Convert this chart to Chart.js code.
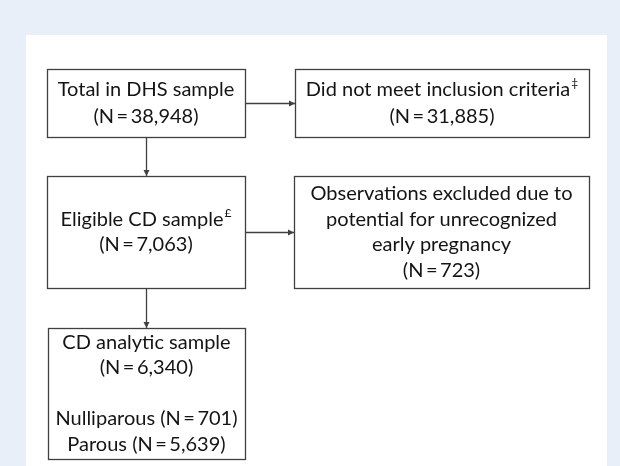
<!DOCTYPE html>
<html>
<head>
<meta charset="utf-8">
<script src="https://cdn.jsdelivr.net/npm/chart.js@4.4.1/dist/chart.umd.min.js"></script>
<style>
  html, body { margin: 0; padding: 0; background: #e9eff9; }
  #wrap { width: 620px; height: 466px; }
  canvas { display: block; }
</style>
</head>
<body>
<div id="wrap"><canvas id="flow" width="620" height="466"></canvas></div>
<script>
// flow steps
const stepNames = [
  ['Total in DHS sample'],
  ['Did not meet inclusion criteria'],
  ['Eligible CD sample'],
  ['Observations excluded due to', 'potential for unrecognized', 'early pregnancy'],
  ['CD analytic sample']
];
const stepMarks = ['', '\u2021', '\u00a3', '', ''];
const stepCounts = [38948, 31885, 7063, 723, 6340];
const subgroupNames = ['Nulliparous', 'Parous'];
const subgroupCounts = [701, 5639];

// layout (chart units = px here)
const boxLayout = [
  [47, 69, 245, 137],
  [295, 69, 589, 137],
  [47, 176, 245, 288],
  [294, 176, 589, 288],
  [48, 328, 245, 459]
];
const links = [[0, 1, 'right'], [0, 2, 'down'], [2, 3, 'right'], [2, 4, 'down']];
const panel = [26, 35, 607, 470];

const FONT = 'Lato';
const fmt = n => n.toLocaleString('en-US');
const nText = n => '(N\u2009=\u2009' + fmt(n) + ')';

function boxLines(i) {
  const lines = stepNames[i].map((t, k) => ({ text: t, mark: k === stepNames[i].length - 1 ? stepMarks[i] : '' }));
  lines.push({ text: nText(stepCounts[i]), mark: '' });
  if (i === 4) {
    lines.push({ text: '', mark: '' });
    subgroupNames.forEach((g, k) => lines.push({ text: g + ' ' + nText(subgroupCounts[k]), mark: '' }));
  }
  return lines;
}

const flowPlugin = {
  id: 'flow',
  beforeDraw(chart) {
    const { ctx, scales: { x, y } } = chart;
    ctx.save();
    ctx.fillStyle = '#e9eff9';
    ctx.fillRect(0, 0, chart.width, chart.height);
    ctx.fillStyle = '#ffffff';
    const px0 = x.getPixelForValue(panel[0]), py0 = y.getPixelForValue(panel[1]);
    ctx.fillRect(px0, py0, x.getPixelForValue(panel[2]) - px0, y.getPixelForValue(panel[3]) - py0);
    ctx.restore();
  },
  afterDraw(chart) {
    const { ctx, scales: { x, y } } = chart;
    const rect = i => {
      const b = boxLayout[i];
      return { l: x.getPixelForValue(b[0]), t: y.getPixelForValue(b[1]), r: x.getPixelForValue(b[2]), b: y.getPixelForValue(b[3]) };
    };
    ctx.save();
    ctx.strokeStyle = '#404040';
    ctx.fillStyle = '#404040';
    ctx.lineWidth = 1.3;

    // boxes
    boxLayout.forEach((_, i) => {
      const r = rect(i);
      ctx.strokeRect(Math.round(r.l) + 0.5, Math.round(r.t) + 0.5, Math.round(r.r - r.l), Math.round(r.b - r.t));
    });

    // arrows
    links.forEach(([a, b, dir]) => {
      const ra = rect(a), rb = rect(b);
      let x1, y1, x2, y2;
      if (dir === 'right') {
        y1 = y2 = Math.round((ra.t + ra.b) / 2) + 0.5;
        x1 = ra.r; x2 = rb.l;
      } else {
        x1 = x2 = Math.round((ra.l + ra.r) / 2) + 0.5;
        y1 = ra.b; y2 = rb.t;
      }
      ctx.beginPath();
      ctx.moveTo(x1, y1);
      ctx.lineTo(x2, y2);
      ctx.stroke();
      ctx.beginPath();
      if (dir === 'right') {
        ctx.moveTo(x2, y2); ctx.lineTo(x2 - 6, y2 - 3); ctx.lineTo(x2 - 6, y2 + 3);
      } else {
        ctx.moveTo(x2, y2); ctx.lineTo(x2 - 3, y2 - 6); ctx.lineTo(x2 + 3, y2 - 6);
      }
      ctx.closePath();
      ctx.fill();
    });

    // texts
    ctx.fillStyle = '#141414';
    ctx.textBaseline = 'middle';
    ctx.textAlign = 'left';
    const lh = 25.5;
    boxLayout.forEach((_, i) => {
      const r = rect(i);
      const lines = boxLines(i);
      const cx = (r.l + r.r) / 2, cy = (r.t + r.b) / 2;
      const gap = i < 2 ? 27 : lh;
      lines.forEach((ln, k) => {
        if (!ln.text) return;
        const ty = cy + (k - (lines.length - 1) / 2) * gap;
        ctx.font = '20px ' + FONT;
        const w = ctx.measureText(ln.text).width;
        ctx.font = '12px ' + FONT;
        const wm = ln.mark ? ctx.measureText(ln.mark).width + 1 : 0;
        const sx = cx - (w + wm) / 2;
        ctx.font = '20px ' + FONT;
        ctx.fillText(ln.text, sx, ty);
        if (ln.mark) {
          ctx.font = '12px ' + FONT;
          ctx.fillText(ln.mark, sx + w + 1, ty - 6);
        }
      });
    });
    ctx.restore();
  }
};

new Chart(document.getElementById('flow').getContext('2d'), {
  type: 'scatter',
  data: {
    datasets: [{
      data: boxLayout.map(b => ({ x: (b[0] + b[2]) / 2, y: (b[1] + b[3]) / 2 })),
      pointRadius: 0
    }]
  },
  options: {
    responsive: false,
    animation: false,
    layout: { padding: 0 },
    plugins: { legend: { display: false }, tooltip: { enabled: false } },
    scales: {
      x: { type: 'linear', min: 0, max: 620, display: false },
      y: { type: 'linear', min: 0, max: 466, reverse: true, display: false }
    }
  },
  plugins: [flowPlugin]
});
</script>
</body>
</html>
